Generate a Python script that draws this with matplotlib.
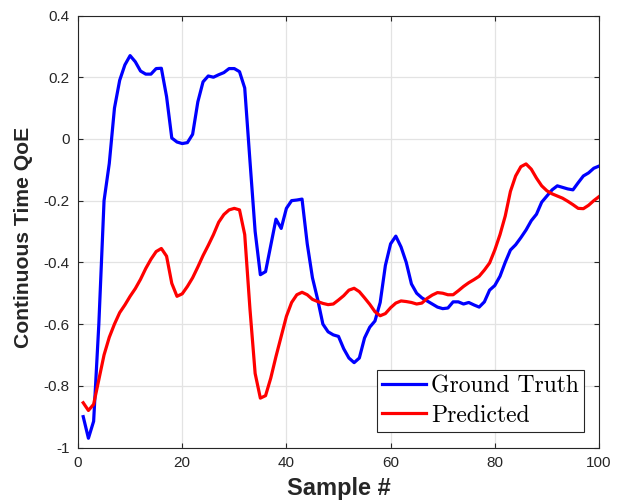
import matplotlib
matplotlib.use("Agg")
import matplotlib.pyplot as plt
import numpy as np

samples = list(range(1, 101))

ground_truth = [
    -0.90, -0.97, -0.915, -0.60, -0.20, -0.08, 0.10, 0.19, 0.24, 0.27,
    0.25, 0.22, 0.21, 0.21, 0.228, 0.229, 0.137, 0.003, -0.01, -0.015,
    -0.012, 0.015, 0.12, 0.185, 0.204, 0.200, 0.208, 0.215, 0.228, 0.228,
    0.218, 0.165, -0.07, -0.30, -0.44, -0.43, -0.345, -0.26, -0.29, -0.225,
    -0.20, -0.198, -0.195, -0.34, -0.45, -0.52, -0.60, -0.625, -0.635, -0.64,
    -0.68, -0.71, -0.725, -0.71, -0.645, -0.61, -0.59, -0.53, -0.41, -0.34,
    -0.315, -0.35, -0.40, -0.47, -0.50, -0.515, -0.525, -0.535, -0.545, -0.55,
    -0.548, -0.528, -0.528, -0.535, -0.53, -0.538, -0.545, -0.528, -0.49, -0.475,
    -0.445, -0.40, -0.36, -0.343, -0.32, -0.295, -0.265, -0.244, -0.205, -0.185,
    -0.165, -0.152, -0.157, -0.162, -0.165, -0.142, -0.12, -0.11, -0.095, -0.088,
]

predicted = [
    -0.855, -0.88, -0.86, -0.78, -0.70, -0.643, -0.60, -0.563, -0.538, -0.51,
    -0.485, -0.455, -0.42, -0.39, -0.365, -0.355, -0.38, -0.468, -0.51, -0.502,
    -0.478, -0.45, -0.415, -0.378, -0.345, -0.31, -0.27, -0.245, -0.23, -0.225,
    -0.23, -0.31, -0.55, -0.76, -0.84, -0.832, -0.775, -0.705, -0.64, -0.575,
    -0.53, -0.505, -0.497, -0.505, -0.52, -0.527, -0.533, -0.537, -0.535, -0.522,
    -0.508, -0.49, -0.484, -0.495, -0.515, -0.536, -0.56, -0.573, -0.566, -0.547,
    -0.532, -0.525, -0.527, -0.53, -0.535, -0.532, -0.517, -0.506, -0.498, -0.50,
    -0.505, -0.505, -0.492, -0.478, -0.466, -0.456, -0.445, -0.425, -0.402, -0.36,
    -0.31, -0.25, -0.17, -0.12, -0.09, -0.081, -0.098, -0.127, -0.152, -0.168,
    -0.178, -0.185, -0.192, -0.202, -0.213, -0.225, -0.226, -0.215, -0.20, -0.187,
]

x_ticks = [0, 20, 40, 60, 80, 100]
y_ticks = [-1, -0.8, -0.6, -0.4, -0.2, 0, 0.2, 0.4]
y_tick_labels = ["-1", "-0.8", "-0.6", "-0.4", "-0.2", "0", "0.2", "0.4"]
series_labels = ["Ground Truth", "Predicted"]

dark = "#262626"
plt.rcParams['font.family'] = ['Liberation Sans', 'DejaVu Sans']

fig = plt.figure(figsize=(6.18, 5.0), dpi=100)
ax = fig.add_axes([78/618, 1-447.5/500, (599-78)/618, (447.5-15.5)/500])

ax.plot(samples, ground_truth, color=(0, 0, 1), lw=2.3, label=series_labels[0])
ax.plot(samples, predicted, color=(1, 0, 0), lw=2.3, label=series_labels[1])

ax.set_xlim(0, 100)
ax.set_ylim(-1, 0.4)
ax.set_xticks(x_ticks)
ax.set_xticklabels([str(t) for t in x_ticks])
ax.set_yticks(y_ticks)
ax.set_yticklabels(y_tick_labels)

ax.grid(True, color="#e3e3e3", lw=0.9)
ax.set_axisbelow(True)
for s in ax.spines.values():
    s.set_color(dark)
    s.set_linewidth(0.8)
ax.tick_params(direction="in", length=3.6, width=0.8, colors=dark,
               labelsize=11, top=True, right=True, pad=6)

ax.set_xlabel("Sample #", fontsize=17, fontweight="bold", color=dark, labelpad=5)
ax.set_ylabel("Continuous Time QoE", fontsize=15.2, fontweight="bold", color=dark)
ax.yaxis.set_label_coords(-0.0864, 0.486)

leg = ax.legend(loc="lower right", bbox_to_anchor=(0.971, 0.036), borderaxespad=0,
                prop={"family": "cmr10", "size": 17}, frameon=True, fancybox=False,
                edgecolor=dark, framealpha=1, handlelength=1.85, handletextpad=0.2,
                borderpad=0.22, labelspacing=0.3)
leg.get_frame().set_linewidth(0.8)

fig.savefig("out.png", dpi=100)
